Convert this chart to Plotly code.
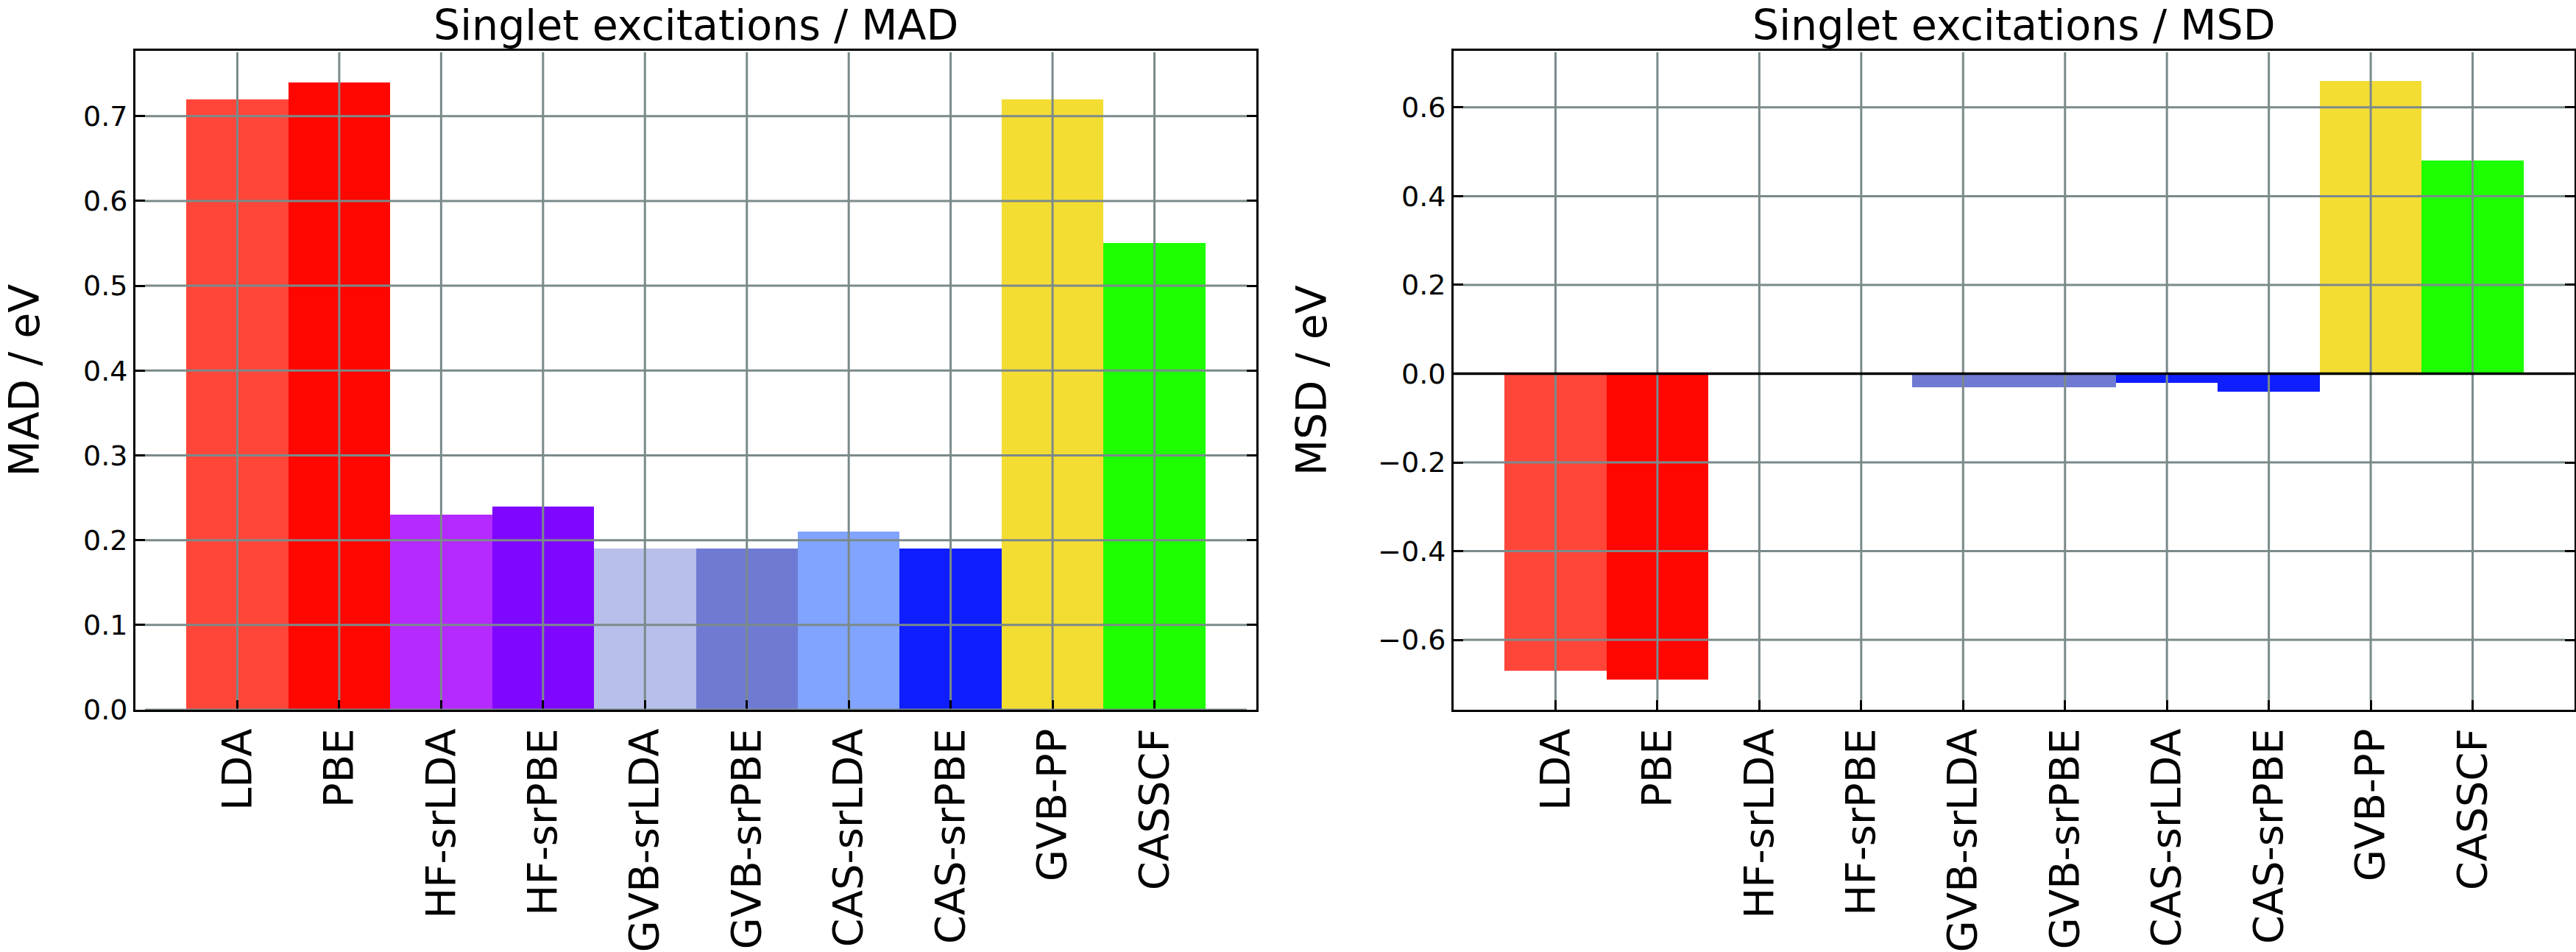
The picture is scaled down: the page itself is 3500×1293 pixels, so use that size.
import plotly.graph_objects as go

methods = ["LDA", "PBE", "HF-srLDA", "HF-srPBE", "GVB-srLDA", "GVB-srPBE",
           "CAS-srLDA", "CAS-srPBE", "GVB-PP", "CASSCF"]
mad = [0.72, 0.74, 0.23, 0.24, 0.19, 0.19, 0.21, 0.19, 0.72, 0.55]
msd = [-0.67, -0.69, 0.0, 0.0, -0.03, -0.03, -0.02, -0.04, 0.66, 0.48]
colors_mad = ["#ff4639", "#ff0600", "#b52aff", "#7f07ff", "#b7bfea", "#6f7bd3",
              "#80a4ff", "#0e1eff", "#f3dd33", "#1eff00"]
colors_msd = ["#ff4639", "#ff0600", "#b52aff", "#7f07ff", "#6f7bd3", "#6f7bd3",
              "#0e1eff", "#0e1eff", "#f3dd33", "#1eff00"]
mad_ticks = [0.0, 0.1, 0.2, 0.3, 0.4, 0.5, 0.6, 0.7]
msd_ticks = [-0.6, -0.4, -0.2, 0.0, 0.2, 0.4, 0.6]
titles = ["Singlet excitations / MAD", "Singlet excitations / MSD"]
ylabels = ["MAD / eV", "MSD / eV"]

W, H = 3500, 1293
FONT = "DejaVu Sans"
GRID = "#7b8a8a"
dom_x1 = [184 / W, 1707 / W]
dom_x2 = [1975 / W, 3498 / W]
dom_y = [1 - 964 / H, 1 - 69 / H]
plot_w = 1523
plot_h = 895

fig = go.Figure()
fig.add_trace(go.Bar(x=methods, y=mad, marker=dict(color=colors_mad, line=dict(width=0)),
                     width=1, xaxis="x", yaxis="y", showlegend=False))
fig.add_trace(go.Bar(x=methods, y=msd, marker=dict(color=colors_msd, line=dict(width=0)),
                     width=1, xaxis="x2", yaxis="y2", showlegend=False))

xcommon = dict(type="category", categoryorder="array", categoryarray=methods,
               range=[-1, 10], tickangle=-90, ticks="inside", ticklen=13, tickwidth=3,
               tickcolor="black", showline=True, linewidth=3, linecolor="black",
               mirror=True, showgrid=False, zeroline=False, automargin=False,
               tickfont=dict(family=FONT, size=56, color="black"),
               ticklabelstandoff=0)
ycommon = dict(ticks="inside", ticklen=13, tickwidth=3, tickcolor="black",
               showline=True, linewidth=3, linecolor="black", mirror="ticks",
               showgrid=False, zeroline=False, tickformat=".1f", automargin=False,
               tickfont=dict(family=FONT, size=38, color="black"))

fig.update_layout(
    width=W, height=H, margin=dict(l=0, r=0, t=0, b=0, autoexpand=False),
    paper_bgcolor="white", plot_bgcolor="white", bargap=0,
    xaxis=dict(domain=dom_x1, anchor="y", **xcommon),
    xaxis2=dict(domain=dom_x2, anchor="y2", **xcommon),
    yaxis=dict(domain=dom_y, anchor="x", range=[0, 0.777], tickvals=mad_ticks,
               title=dict(text=ylabels[0], font=dict(family=FONT, size=57, color="black"), standoff=52),
               **ycommon),
    yaxis2=dict(domain=dom_y, anchor="x2", range=[-0.7575, 0.7275], tickvals=msd_ticks,
                title=dict(text=ylabels[1], font=dict(family=FONT, size=57, color="black"), standoff=52),
                **ycommon),
)

shapes = []
for xa, ya, ticks in [("x", "y", mad_ticks), ("x2", "y2", msd_ticks)]:
    for m in methods:
        shapes.append(dict(type="line", xref=xa, yref=f"{ya} domain", x0=m, x1=m,
                           y0=13 / plot_h, y1=1 - 2 / plot_h,
                           line=dict(color=GRID, width=3), layer="above"))
    for t in ticks:
        shapes.append(dict(type="line", xref=f"{xa} domain", yref=ya,
                           x0=13 / plot_w, x1=1 - 13 / plot_w, y0=t, y1=t,
                           line=dict(color=GRID, width=3), layer="above"))
shapes.append(dict(type="line", xref="x2 domain", yref="y2", x0=0, x1=1, y0=0, y1=0,
                   line=dict(color="black", width=3.5), layer="above"))
fig.update_layout(shapes=shapes)

for dom, t in [(dom_x1, titles[0]), (dom_x2, titles[1])]:
    fig.add_annotation(x=(dom[0] + dom[1]) / 2, y=1, xref="paper", yref="paper",
                       text=t, showarrow=False, xanchor="center", yanchor="top",
                       borderpad=0, font=dict(family=FONT, size=57, color="black"))

fig.write_html("out.html")
